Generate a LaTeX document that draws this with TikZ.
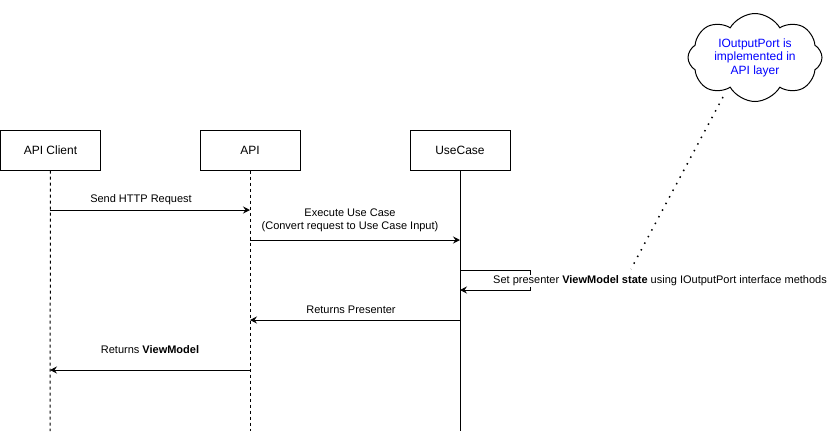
\documentclass[tikz,border=0pt]{standalone}
\usepackage{fontspec}
\setmainfont{Liberation Sans}
\usetikzlibrary{arrows.meta,shapes.symbols}
\begin{document}
\begin{tikzpicture}[x=1pt,y=-1pt,
  box/.style={draw,line width=1pt,minimum width=100pt,minimum height=40pt,inner sep=0pt,font=\fontsize{12}{14}\selectfont},
  lifeline/.style={line width=1pt,dash pattern=on 3pt off 3pt},
  msg/.style={line width=1pt,-{Stealth[length=7pt,width=7pt,inset=2.5pt]}},
  lbl/.style={font=\fontsize{11}{13}\selectfont,inner sep=1pt,align=center},
  note/.style={cloud,cloud puffs=8,cloud puff arc=120,cloud ignores aspect,draw,line width=1pt,minimum width=134pt,minimum height=88pt,inner sep=0pt,font=\fontsize{12}{13.5}\selectfont,text=blue,align=center}
]
\useasboundingbox (0,0) rectangle (831,432);
\node[box] (client) at (50.5,150) {API Client};
\node[box] (api) at (250,150) {API};
\node[box] (uc) at (460,150) {UseCase};
\coordinate (clientEnd) at (50,431);
\coordinate (apiEnd) at (250,431);
\coordinate (ucEnd) at (460,431);
\draw[lifeline] (client.south) -- (clientEnd);
\draw[lifeline] (api.south) -- (apiEnd);
\draw[line width=1pt] (uc.south) -- (ucEnd);
% messages
\coordinate (c1) at (50,210); \coordinate (a1) at (250,210);
\coordinate (a2) at (250,240); \coordinate (u2) at (460,240);
\coordinate (u3) at (460,270); \coordinate (u3r) at (530,270); \coordinate (u4) at (460,290);
\coordinate (u5) at (460,320); \coordinate (a5) at (250,320);
\coordinate (a6) at (250,370); \coordinate (c6) at (50,370);
\draw[msg] (c1) -- (a1);
\node[lbl] (l1) at (141,200) {Send HTTP Request};
\draw[msg] (a2) -- (u2);
\node[lbl] (l2) at (350,220) {Execute Use Case\\(Convert request to Use Case Input)};
\draw[msg] (u3) -- (u3r) |- (u4);
\node[lbl,fill=white,anchor=west] (l3) at (492,281) {Set presenter \textbf{ViewModel state} using IOutputPort interface methods};
\draw[msg] (u5) -- (a5);
\node[lbl] (l4) at (351,310) {Returns Presenter};
\draw[msg] (a6) -- (c6);
\node[lbl] (l5) at (150,350) {Returns \textbf{ViewModel}};
% note
\node[note] (cloudnote) at (755,57.5) {IOutputPort is\\implemented in\\API layer};
\coordinate (noteEnd) at (631,269);
\coordinate (noteStart) at (723,97);
\draw[line width=1.5pt,dash pattern=on 1.5pt off 6pt] (noteStart) -- (noteEnd);
\end{tikzpicture}
\end{document}
